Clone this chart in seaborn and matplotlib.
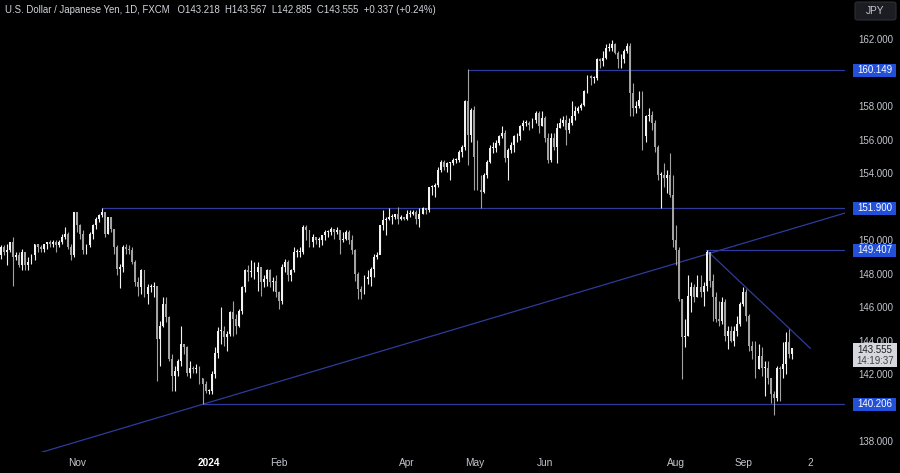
import numpy as np
import pandas as pd
import seaborn as sns
import matplotlib.pyplot as plt
import matplotlib.transforms as mtransforms
from matplotlib.patches import Rectangle, FancyBboxPatch

# USD/JPY daily bars (FXCM), Sep 27 2023 -> Sep 24 2024
first_open = 149.1
close = [
    149.6, 149.3, 149.4,
    # Oct
    149.9, 149.0, 149.1, 148.5, 149.3, 148.5, 148.7, 149.1, 149.8, 149.6, 149.5,
    149.8, 149.9, 149.8, 149.9, 149.7, 149.9, 150.2, 150.4, 149.6, 149.1, 151.7,
    # Nov
    150.9, 150.4, 149.4, 149.7, 150.4, 150.9, 151.3, 151.5, 151.7, 150.4, 151.4,
    150.7, 149.6, 148.3, 148.4, 149.6, 149.5, 149.4, 148.7, 147.5, 147.2, 148.2,
    # Dec
    146.8, 147.2, 147.2, 147.3, 144.1, 144.9, 146.2, 145.4, 142.9, 141.9, 142.2,
    142.8, 143.8, 143.6, 142.1, 142.4, 142.3, 142.4, 141.8, 141.4, 141.0,
    # Jan
    141.0, 142.0, 143.3, 144.6, 144.6, 144.2, 144.4, 145.7, 145.3, 144.9, 145.8,
    147.2, 148.2, 148.1, 148.1, 148.1, 148.4, 147.5, 147.7, 148.2, 147.5, 147.6, 146.9,
    # Feb
    146.4, 148.4, 148.7, 147.9, 148.2, 149.3, 149.3, 149.3, 150.8, 150.6, 149.9,
    150.2, 150.0, 150.0, 150.3, 150.5, 150.5, 150.7, 150.5, 150.6, 150.0,
    # Mar
    150.1, 150.5, 150.0, 149.4, 148.0, 147.1, 146.9, 147.7, 147.8, 148.3, 149.0,
    149.1, 150.9, 151.2, 151.3, 151.4, 151.4, 151.6, 151.3, 151.4, 151.3,
    # Apr
    151.6, 151.6, 151.7, 151.3, 151.6, 151.9, 151.8, 153.2, 153.2, 153.3, 154.2,
    154.7, 154.4, 154.6, 154.6, 154.8, 154.8, 155.3, 155.6, 158.3, 156.3, 157.8,
    # May
    155.0, 153.0, 152.9, 153.9, 154.7, 155.5, 155.5, 155.8, 156.2, 156.4, 154.9,
    155.4, 155.7, 156.2, 156.2, 156.8, 157.0, 157.0, 156.9, 157.2, 157.6, 156.8, 157.3,
    # Jun
    156.1, 154.8, 156.1, 155.6, 156.7, 157.0, 157.2, 156.6, 157.0, 157.4,
    157.7, 157.9, 158.1, 158.9, 159.8, 159.7, 159.7, 160.8, 160.7, 160.9,
    # Jul
    161.5, 161.5, 161.7, 161.2, 160.8, 160.8, 161.3, 161.6, 158.8, 157.9, 158.0,
    158.4, 156.2, 157.4, 157.5, 157.0, 155.6, 153.9, 153.9, 153.7, 153.9, 152.7, 150.0,
    # Aug
    149.4, 146.5, 144.2, 144.3, 146.7, 147.2, 146.6, 147.2, 146.9, 147.3, 149.3,
    147.6, 146.6, 145.3, 145.2, 146.3, 144.3, 144.6, 144.0, 144.6, 145.0, 146.2,
    # Sep
    146.9, 145.5, 143.7, 143.4, 142.3, 143.1, 142.4, 142.4, 141.8, 140.8, 140.6,
    142.4, 142.3, 142.6, 143.9, 143.218, 143.555,
]
high = [
    149.7, 149.7, 149.8,
    149.9, 150.2, 149.3, 149.3, 149.5, 149.0, 149.0, 149.2, 149.8, 149.8, 149.7,
    149.8, 149.9, 150.0, 150.0, 150.0, 150.0, 150.4, 150.8, 150.5, 149.8, 151.7,
    151.7, 151.0, 150.6, 149.8, 150.5, 151.0, 151.4, 151.6, 151.9, 151.7, 151.4,
    151.4, 150.7, 149.7, 148.6, 149.7, 149.8, 149.7, 149.6, 148.8, 147.8, 148.3,
    148.2, 147.4, 147.4, 147.5, 147.3, 145.2, 146.6, 146.6, 145.5, 143.2, 142.5,
    142.9, 144.9, 143.8, 143.7, 142.8, 142.5, 142.6, 142.5, 141.8, 141.6,
    141.1, 142.2, 143.6, 144.8, 146.0, 144.9, 144.6, 145.8, 146.4, 145.6, 145.9,
    147.3, 148.3, 148.5, 148.8, 148.7, 148.7, 148.4, 147.9, 148.3, 148.3, 147.8, 147.9,
    147.0, 148.6, 148.9, 148.8, 148.3, 149.6, 149.5, 149.6, 150.9, 150.9, 150.6,
    150.4, 150.2, 150.2, 150.3, 150.6, 150.6, 150.8, 150.7, 150.8, 150.6,
    150.5, 150.6, 150.6, 150.3, 149.5, 148.1, 147.3, 147.9, 148.2, 148.4, 149.2,
    149.3, 150.9, 151.8, 151.4, 151.9, 151.6, 151.6, 152.0, 151.5, 151.4,
    151.8, 151.8, 151.8, 151.8, 151.9, 152.0, 151.9, 153.2, 153.3, 153.4, 154.4,
    154.8, 154.8, 154.7, 154.7, 154.9, 154.9, 155.4, 155.7, 158.4, 160.2, 157.9,
    158.0, 156.0, 153.9, 154.0, 154.8, 155.7, 155.9, 156.0, 156.3, 156.8, 156.6,
    155.5, 155.9, 156.3, 156.4, 156.9, 157.2, 157.2, 157.1, 157.3, 157.7, 157.7, 157.7,
    157.4, 156.4, 156.4, 156.4, 157.0, 157.3, 157.4, 157.5, 157.3, 158.3,
    158.0, 158.0, 158.2, 159.0, 159.9, 159.9, 159.8, 160.9, 160.9, 161.3,
    161.7, 161.8, 161.95, 161.8, 161.3, 161.1, 161.4, 161.8, 161.8, 159.4, 158.3,
    158.9, 158.9, 157.5, 157.9, 157.7, 157.2, 155.7, 154.1, 154.6, 154.2, 155.2, 153.9,
    150.9, 149.6, 146.5, 145.3, 147.9, 147.5, 147.4, 147.9, 147.9, 147.5, 149.4,
    149.1, 148.0, 146.9, 146.4, 146.6, 146.5, 144.9, 144.9, 144.9, 145.5, 146.3,
    147.2, 147.1, 145.6, 144.0, 144.0, 143.8, 143.6, 142.8, 142.8, 141.8, 141.0,
    142.5, 142.5, 143.9, 144.5, 144.7, 143.567,
]
low = [
    148.9, 149.1, 148.5,
    149.3, 147.3, 148.8, 148.4, 148.2, 148.2, 148.2, 148.6, 148.8, 149.3, 149.3,
    149.3, 149.5, 149.6, 149.6, 149.3, 149.6, 149.8, 150.1, 149.5, 148.8, 149.0,
    150.5, 150.1, 149.2, 149.2, 149.6, 150.1, 150.7, 151.1, 151.4, 150.2, 150.4,
    150.5, 149.2, 147.9, 147.15, 148.1, 149.2, 149.2, 148.6, 147.3, 146.7, 146.8,
    146.6, 146.2, 146.9, 146.6, 141.6, 142.5, 144.8, 145.1, 142.8, 141.0, 141.0,
    141.9, 142.5, 143.2, 141.9, 141.8, 142.1, 142.1, 141.4, 140.25, 140.9,
    140.8, 140.8, 141.8, 143.0, 143.8, 143.7, 143.4, 144.3, 144.3, 144.4, 144.8,
    145.6, 146.9, 147.6, 147.8, 147.7, 147.0, 146.7, 147.2, 147.3, 147.2, 147.0, 146.6,
    145.9, 146.2, 148.1, 147.6, 147.6, 148.1, 149.0, 149.0, 149.2, 150.0, 149.6,
    149.6, 149.8, 149.6, 149.7, 150.0, 150.2, 150.3, 150.1, 150.4, 149.2,
    149.9, 150.0, 149.8, 149.2, 147.6, 146.5, 146.5, 146.8, 147.4, 147.3, 147.8,
    148.9, 149.2, 150.6, 150.3, 151.2, 151.0, 151.3, 151.0, 151.2, 151.2,
    151.2, 151.4, 151.5, 151.0, 150.8, 151.6, 151.6, 151.7, 152.7, 152.6, 153.2,
    154.1, 154.2, 154.1, 153.6, 154.5, 154.6, 154.7, 155.0, 155.4, 154.5, 155.9,
    153.0, 153.0, 151.9, 152.8, 153.7, 154.6, 155.2, 155.3, 155.7, 156.1, 154.7,
    153.6, 155.2, 155.3, 155.9, 156.0, 156.6, 156.8, 156.6, 156.7, 157.0, 156.4, 156.8,
    155.9, 154.6, 154.7, 155.4, 154.6, 156.7, 156.8, 155.7, 156.4, 156.9,
    157.2, 157.6, 157.8, 158.0, 158.8, 159.3, 159.4, 159.6, 160.3, 160.4,
    160.8, 161.3, 161.3, 161.1, 160.3, 160.3, 160.6, 161.2, 157.4, 157.4, 157.6,
    157.9, 155.4, 155.9, 157.1, 156.6, 155.3, 153.6, 151.9, 153.2, 152.8, 152.6, 149.6,
    148.5, 146.4, 141.7, 143.6, 144.3, 145.7, 146.3, 146.6, 146.6, 146.1, 147.0,
    147.2, 145.2, 145.1, 144.9, 145.0, 144.0, 143.5, 143.9, 143.7, 144.3, 144.9,
    146.1, 145.2, 143.4, 142.9, 141.8, 142.3, 141.9, 140.7, 141.4, 140.3, 139.58,
    140.4, 140.4, 141.8, 142.0, 143.0, 142.885,
]

# horizontal levels drawn on the chart: (start date, price)
level_dates = ['2024-04-29', '2023-11-13', '2024-08-15', '2023-12-28']
level_prices = [160.149, 151.900, 149.407, 140.206]

# trendlines: two anchor points each
rise_dates = ['2023-12-28', '2024-07-24']
rise_prices = [140.206, 148.3]
fall_dates = ['2024-08-15', '2024-09-23']
fall_prices = [149.407, 144.75]
fall_end = '2024-10-02'

month_ticks = ['2023-11-01', '2024-01-01', '2024-02-01', '2024-04-01', '2024-05-01',
               '2024-06-03', '2024-08-01', '2024-09-02', '2024-10-02']
month_labels = ['Nov', '2024', 'Feb', 'Apr', 'May', 'Jun', 'Aug', 'Sep', '2']

# price scale labels (160, 152 and 140 sit under the level tags)
price_ticks = [138, 142, 144, 146, 148, 150, 154, 156, 158, 162]

title = ("U.S. Dollar / Japanese Yen, 1D, FXCM   O143.218  H143.567  "
         "L142.885  C143.555  +0.337 (+0.24%)")

# ---------------------------------------------------------------------------
dates = pd.bdate_range('2023-09-27', '2024-10-15')
pos = {d.strftime('%Y-%m-%d'): i for i, d in enumerate(dates)}

n = len(close)
c = np.array(close)
o = np.r_[first_open, c[:-1]]   # FX daily bars open at the previous close
h = np.array(high)
l = np.array(low)
idx = np.arange(n)

sns.set_theme(style="dark", rc={'axes.facecolor': 'black', 'figure.facecolor': 'black',
                                'axes.grid': False})
plt.rcParams['font.family'] = ['Liberation Sans', 'DejaVu Sans']

fig = plt.figure(figsize=(9, 4.73), dpi=100)
ax = fig.add_axes([0, 21 / 473, 845 / 900, 452 / 473])
ax.set_facecolor('black')

XMAX = 276.3
ax.set_xlim(-0.3, XMAX)
ax.set_ylim(137.36, 164.35)

line_col = '#2f3b9c'

# level lines
for d, p in zip(level_dates, level_prices):
    sns.lineplot(x=[pos[d], XMAX], y=[p, p], ax=ax, color=line_col, lw=0.9, zorder=1)

# rising trendline across the whole chart
x0, x1 = pos[rise_dates[0]], pos[rise_dates[1]]
slope = (rise_prices[1] - rise_prices[0]) / (x1 - x0)
xs = [0, XMAX]
sns.lineplot(x=xs, y=[rise_prices[0] + slope * (x - x0) for x in xs], ax=ax,
             color=line_col, lw=0.9, zorder=1)

# falling trendline from the August high
x0, x1 = pos[fall_dates[0]], pos[fall_dates[1]]
slope = (fall_prices[1] - fall_prices[0]) / (x1 - x0)
xs = [x0, pos[fall_end]]
sns.lineplot(x=xs, y=[fall_prices[0] + slope * (x - x0) for x in xs], ax=ax,
             color=line_col, lw=0.9, zorder=1)

# candles
up = c >= o
cols = np.where(up, '#f2f2f2', '#a3a3a3')
ax.vlines(idx, l, h, colors=cols, lw=0.8, zorder=3)
body_lo = np.minimum(o, c)
body_h = np.maximum(np.abs(c - o), 0.05)
ax.bar(idx, body_h, bottom=body_lo, width=0.62, color=cols, lw=0, zorder=4)

for s in ax.spines.values():
    s.set_visible(False)

# price axis on the right
ax.yaxis.tick_right()
ax.set_yticks(price_ticks)
ax.set_yticklabels([f"{p:.3f}" for p in price_ticks])
ax.tick_params(axis='y', length=0, pad=22.3, labelsize=7, labelcolor='#c3c6ce')
for t in ax.get_yticklabels():
    t.set_ha('center')

# time axis
ax.set_xticks([pos[d] for d in month_ticks])
ax.set_xticklabels(month_labels)
ax.tick_params(axis='x', length=0, pad=4.5, labelsize=7.3, labelcolor='#c3c6ce')
for t in ax.get_xticklabels():
    if t.get_text() == '2024':
        t.set_color('white')
        t.set_fontweight('bold')
ax.set_xlabel('')
ax.set_ylabel('')

# price tags
tr = mtransforms.blended_transform_factory(ax.transAxes, ax.transData)
px_per_unit = 452 / (164.35 - 137.36)
tag_h = 13 / px_per_unit
for p in level_prices:
    ax.add_patch(Rectangle((853 / 845, p - tag_h / 2), 43 / 845, tag_h, transform=tr,
                           fc='#2250d8', ec='none', clip_on=False, zorder=9))
    ax.text(875 / 845, p, f"{p:.3f}", transform=tr, ha='center', va='center',
            fontsize=7, color='white', clip_on=False, zorder=10)

# last price + countdown
fig.patches.append(Rectangle((853 / 900, 1 - 367 / 473), 44 / 900, 24 / 473,
                             transform=fig.transFigure, fc='#d6d8de', ec='none', zorder=5))
fig.text(875 / 900, 1 - 349.5 / 473, f"{close[-1]:.3f}", ha='center', va='center',
         fontsize=7, color='#202020', zorder=6)
fig.text(875 / 900, 1 - 361 / 473, "14:19:37", ha='center', va='center',
         fontsize=7, color='#404040', zorder=6)

# currency box
fig.patches.append(FancyBboxPatch((855 / 900, 1 - 20 / 473), 41 / 900, 18 / 473,
                                  boxstyle='round,pad=0,rounding_size=0.004',
                                  transform=fig.transFigure, fc='#1b1d22', ec='#2c2f36',
                                  lw=0.8, zorder=5))
fig.text(875 / 900, 1 - 11 / 473, "JPY", ha='center', va='center', fontsize=7.3,
         color='#c3c6ce', zorder=6)

fig.text(5 / 900, 1 - 10 / 473, title, ha='left', va='center', fontsize=6.9, color='#d1d4dc')

fig.savefig('out.png', dpi=100, facecolor='black')
